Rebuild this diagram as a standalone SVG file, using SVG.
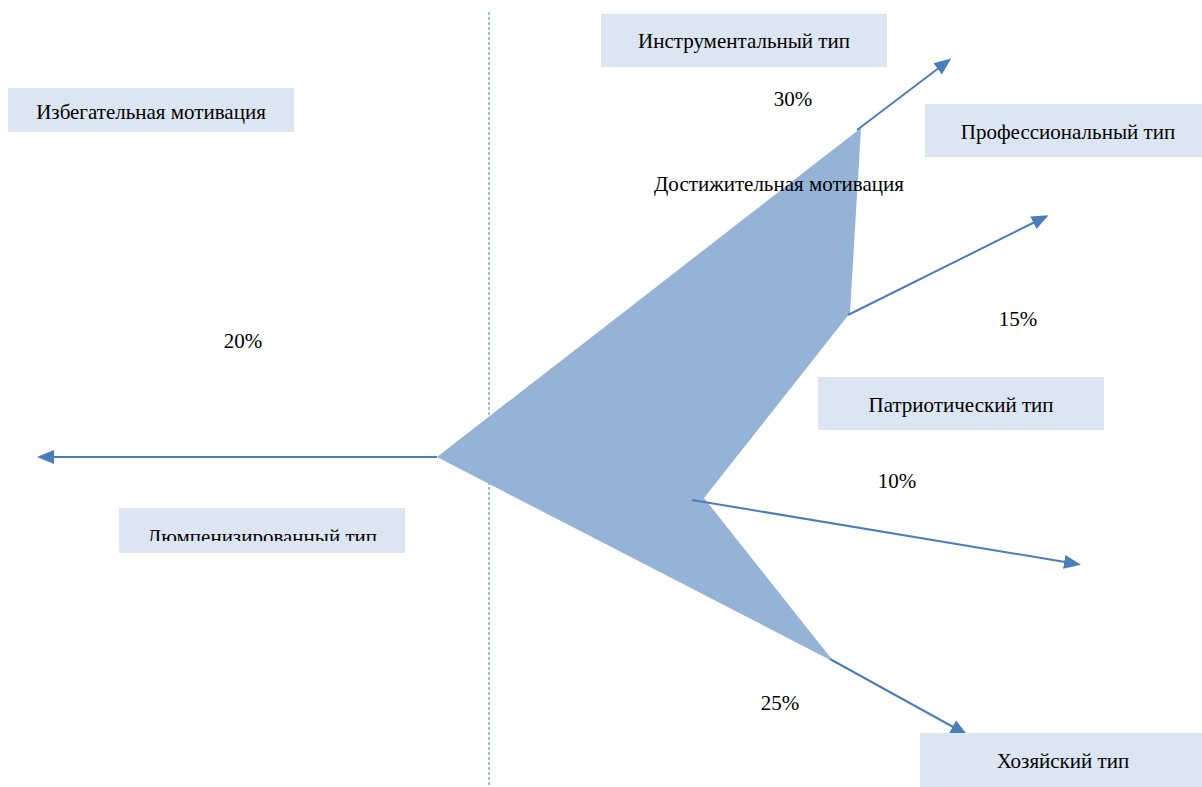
<svg xmlns="http://www.w3.org/2000/svg" width="1202" height="787" viewBox="0 0 1202 787">
<style>
.box{fill:#dce6f2}
.t{font-family:'Liberation Serif','DejaVu Serif',serif;font-size:21px;fill:#000;text-anchor:middle}
.c{stroke:#4a7ebb;stroke-width:2;fill:none;marker-end:url(#ah)}
</style>
<defs>
<marker id="ah" viewBox="-13 -8 17 16" refX="0" refY="0" markerWidth="17" markerHeight="16" markerUnits="userSpaceOnUse" orient="auto">
<path d="M-13,-7 L4,0 L-13,7 z" fill="#4a7ebb"/>
</marker>
<clipPath id="clipL"><rect x="119" y="508" width="286" height="33"/></clipPath>
</defs>
<rect width="1202" height="787" fill="#fff"/>
<line x1="489" y1="12" x2="489" y2="786" stroke="#4a7ebb" stroke-width="1" stroke-dasharray="3,2"/>
<polygon id="shape" points="437,457 861,128 850,313 704,498 834,662" fill="#95b3d7"/>
<g id="connectors">
<line class="c" x1="857" y1="130" x2="948" y2="61"/>
<line class="c" x1="848" y1="315" x2="1045" y2="217"/>
<line class="c" x1="692" y1="500" x2="1077" y2="564"/>
<line class="c" x1="830" y1="659" x2="964" y2="733"/>
<line class="c" x1="437" y1="457" x2="41" y2="457"/>
</g>
<g id="n-instr"><rect class="box" x="601" y="14" width="286" height="53"/><text class="t" x="744" y="48">Инструментальный тип</text></g>
<g id="n-prof"><rect class="box" x="925" y="104" width="277" height="53"/><text class="t" x="1068" y="139">Профессиональный тип</text></g>
<g id="n-izbeg"><rect class="box" x="8" y="88" width="286" height="44"/><text class="t" x="151" y="119">Избегательная мотивация</text></g>
<g id="n-patr"><rect class="box" x="818" y="377" width="286" height="53"/><text class="t" x="961" y="412">Патриотический тип</text></g>
<g id="n-lump"><rect class="box" x="119" y="508" width="286" height="45"/><text class="t" x="262" y="544" clip-path="url(#clipL)">Люмпенизированный тип</text></g>
<g id="n-khoz"><rect class="box" x="920" y="733" width="282" height="54"/><text class="t" x="1063" y="768">Хозяйский тип</text></g>
<g id="labels">
<text class="t" x="793" y="106">30%</text>
<text class="t" x="779" y="191">Достижительная мотивация</text>
<text class="t" x="1018" y="326">15%</text>
<text class="t" x="243" y="348">20%</text>
<text class="t" x="897" y="488">10%</text>
<text class="t" x="780" y="710">25%</text>
</g>
</svg>
